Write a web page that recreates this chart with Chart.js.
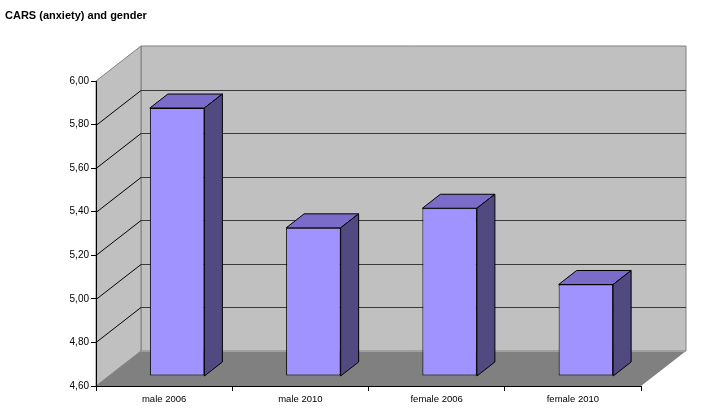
<!DOCTYPE html>
<html>
<head>
<meta charset="utf-8">
<script src="https://cdn.jsdelivr.net/npm/chart.js@4"></script>
<style>
  html, body { margin: 0; padding: 0; background: #ffffff; }
  #wrap { position: relative; width: 702px; height: 413px; }
</style>
</head>
<body>
<div id="wrap"><canvas id="c"></canvas></div>
<script>
// ---- data ----
const categories = ["male 2006", "male 2010", "female 2006", "female 2010"];
const carsValues = [5.83, 5.28, 5.37, 5.02];
const yMin = 4.6;
const yMax = 6.0;
const yStep = 0.2;
const titleText = "CARS (anxiety) and gender";

// ---- 3D styling ----
const WALL = { dx: 45, dy: -35 };   // depth of the box
const FRONT = { dx: 13, dy: -10 };  // plane of the bar fronts
const DEPTH = { dx: 18, dy: -14 };  // bar depth
const COLORS = {
  wall: '#c0c0c0', wallEdge: '#808080', floor: '#808080',
  grid: '#3a3a3a', diag: '#000000',
  front: '#a193ff', top: '#7a6cc8', side: '#514a80'
};
const FONT = "'Liberation Sans', Arial, sans-serif";

function poly(ctx, pts, fill, stroke, lw) {
  ctx.beginPath();
  ctx.moveTo(pts[0][0], pts[0][1]);
  for (let i = 1; i < pts.length; i++) ctx.lineTo(pts[i][0], pts[i][1]);
  ctx.closePath();
  if (fill) { ctx.fillStyle = fill; ctx.fill(); }
  if (stroke) { ctx.strokeStyle = stroke; ctx.lineWidth = lw || 1; ctx.stroke(); }
}

const box3d = {
  id: 'box3d',
  beforeDraw(chart) {
    const { ctx, chartArea: a, scales: { y } } = chart;
    const L = a.left, R = a.right, T = a.top, B = a.bottom;
    const dx = WALL.dx, dy = WALL.dy;
    ctx.save();
    ctx.fillStyle = '#ffffff';
    ctx.fillRect(0, 0, chart.width, chart.height);
    // back wall
    poly(ctx, [[L + dx, T + dy], [R + dx, T + dy], [R + dx, B + dy], [L + dx, B + dy]], COLORS.wall, COLORS.wallEdge, 1);
    // left wall
    poly(ctx, [[L, T], [L + dx, T + dy], [L + dx, B + dy], [L, B]], COLORS.wall, COLORS.wallEdge, 1);
    // floor
    poly(ctx, [[L, B], [R, B], [R + dx, B + dy], [L + dx, B + dy]], COLORS.floor, null);
    ctx.strokeStyle = '#a0a0a0';
    ctx.lineWidth = 1;
    ctx.beginPath();
    ctx.moveTo(L + dx, B + dy + 0.5); ctx.lineTo(R + dx, B + dy + 0.5);
    ctx.stroke();
    // grid lines
    y.ticks.forEach(t => {
      if (t.value <= yMin + 1e-9 || t.value >= yMax - 1e-9) return;
      const py = Math.round(y.getPixelForValue(t.value)) + 0.5;
      ctx.strokeStyle = COLORS.diag;
      ctx.lineWidth = 1;
      ctx.beginPath();
      ctx.moveTo(L, py); ctx.lineTo(L + dx, py + dy);
      ctx.stroke();
      ctx.strokeStyle = COLORS.grid;
      ctx.lineWidth = 1.2;
      ctx.beginPath();
      ctx.moveTo(L + dx, py + dy); ctx.lineTo(R + dx, py + dy);
      ctx.stroke();
    });
    ctx.restore();
  },
  beforeDatasetsDraw(chart) {
    chart.ctx.save();
    chart.ctx.translate(FRONT.dx, FRONT.dy);
  },
  afterDatasetsDraw(chart) {
    const ctx = chart.ctx;
    const yScale = chart.scales.y;
    const baseY = yScale.getPixelForValue(yMin);
    const meta = chart.getDatasetMeta(0);
    meta.data.forEach(bar => {
      const p = bar.getProps(['x', 'y', 'width'], true);
      const l = p.x - p.width / 2, r = p.x + p.width / 2;
      const t = p.y, b = baseY;
      ctx.lineJoin = 'round';
      poly(ctx, [[l, t], [r, t], [r + DEPTH.dx, t + DEPTH.dy], [l + DEPTH.dx, t + DEPTH.dy]], COLORS.top, '#000', 1);
      poly(ctx, [[r, t], [r + DEPTH.dx, t + DEPTH.dy], [r + DEPTH.dx, b + DEPTH.dy], [r, b]], COLORS.side, '#000', 1);
    });
    ctx.restore();
  }
};

new Chart(document.getElementById('c'), {
  type: 'bar',
  data: {
    labels: categories,
    datasets: [{
      data: carsValues,
      base: yMin,
      clip: false,
      backgroundColor: COLORS.front,
      borderColor: '#000000',
      borderWidth: 1,
      borderSkipped: false,
      barPercentage: 0.4,
      categoryPercentage: 1.0
    }]
  },
  options: {
    responsive: true,
    maintainAspectRatio: false,
    animation: false,
    events: [],
    layout: { padding: { left: 5, right: 61, top: 0, bottom: 0 } },
    plugins: {
      legend: { display: false },
      tooltip: { enabled: false },
      title: {
        display: true,
        text: titleText,
        align: 'start',
        color: '#000000',
        font: { family: FONT, size: 11, weight: 'bold', lineHeight: 1.2 },
        padding: { top: 9, bottom: 58.8 }
      }
    },
    scales: {
      x: {
        offset: true,
        grid: { offset: true, drawOnChartArea: false, drawTicks: true, tickLength: 5, color: '#000000', tickColor: '#000000' },
        border: { display: true, color: '#000000', width: 1 },
        ticks: { color: '#000000', font: { family: FONT, size: 9.5 }, padding: 3, maxRotation: 0 },
        afterFit(s) { s.height = 27; }
      },
      y: {
        min: yMin,
        max: yMax,
        grid: { drawOnChartArea: false, drawTicks: true, tickLength: 5, color: '#000000', tickColor: '#000000' },
        border: { display: true, color: '#000000', width: 1 },
        ticks: {
          stepSize: yStep,
          color: '#000000',
          font: { family: FONT, size: 10 },
          padding: 2,
          callback: v => Number(v).toFixed(2).replace('.', ',')
        },
        afterFit(s) { s.width = 91; }
      }
    }
  },
  plugins: [box3d]
});
</script>
</body>
</html>
